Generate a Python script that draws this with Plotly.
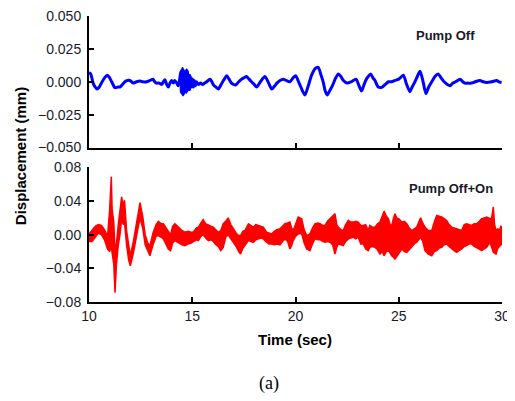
import plotly.graph_objects as go
from plotly.subplots import make_subplots

# --- Top panel: Pump Off (time in sec, displacement in mm) ---
BLUE_T = [
    10.00, 10.08, 10.20, 10.30, 10.38, 10.50, 10.60, 10.75, 10.89, 11.00,
    11.10, 11.26, 11.40, 11.50, 11.62, 11.74, 11.86, 11.98, 12.06, 12.14,
    12.30, 12.47, 12.60, 12.79, 12.95, 13.10, 13.18, 13.26, 13.40, 13.52,
    13.60, 13.68, 13.76, 13.84, 13.92, 14.00, 14.08, 14.15, 14.25, 14.32,
    14.38, 14.45, 14.47, 14.49, 14.51, 14.53, 14.55, 14.57, 14.59, 14.61,
    14.63, 14.65, 14.67, 14.69, 14.71, 14.73, 14.75, 14.77, 14.79, 14.81,
    14.83, 14.85, 14.87, 14.89, 14.92, 14.95, 14.98, 15.02, 15.06, 15.10,
    15.15, 15.20, 15.30, 15.40, 15.50, 15.60, 15.70, 15.86, 15.95, 16.03,
    16.15, 16.26, 16.40, 16.55, 16.67, 16.78, 16.90, 17.00, 17.10, 17.25,
    17.39, 17.50, 17.63, 17.75, 17.87, 18.00, 18.12, 18.30, 18.52, 18.70,
    18.85, 19.00, 19.10, 19.25, 19.41, 19.55, 19.73, 19.88, 20.02, 20.12,
    20.22, 20.34, 20.46, 20.60, 20.78, 20.95, 21.10, 21.22, 21.34, 21.44,
    21.54, 21.65, 21.80, 21.95, 22.08, 22.20, 22.32, 22.50, 22.70, 22.93,
    23.05, 23.20, 23.30, 23.40, 23.52, 23.64, 23.75, 23.85, 24.01, 24.20,
    24.35, 24.50, 24.65, 24.82, 25.00, 25.22, 25.38, 25.54, 25.65, 25.75,
    25.90, 26.03, 26.18, 26.32, 26.45, 26.60, 26.75, 26.91, 27.05, 27.20,
    27.35, 27.48, 27.62, 27.75, 27.97, 28.10, 28.20, 28.35, 28.53, 28.70,
    28.93, 29.10, 29.25, 29.50, 29.74, 29.85, 29.98,
]
BLUE_Y = [
    0.007, 0.006, -0.001, -0.004, -0.0055, -0.004, -0.001, 0.003, 0.005, 0.003,
    0.000, -0.0045, -0.004, -0.004, -0.002, 0.000, 0.001, 0.001, 0.000, -0.001,
    0.000, 0.0005, 0.000, 0.000, 0.001, 0.002, 0.000, -0.001, -0.001, -0.002,
    0.000, 0.0015, -0.002, -0.004, -0.001, 0.001, -0.001, 0.001, -0.001, -0.003,
    0.001, 0.008, -0.008, 0.009, -0.009, 0.010, -0.010, 0.009, -0.009, 0.006,
    -0.007, 0.005, -0.006, 0.008, -0.008, 0.009, -0.007, 0.008, -0.006, 0.005,
    -0.005, 0.004, -0.006, 0.005, -0.004, 0.003, -0.004, 0.002, -0.004, 0.001,
    -0.003, 0.000, -0.002, -0.001, -0.002, -0.001, 0.000, 0.002, 0.000, -0.0025,
    -0.004, -0.0055, -0.002, 0.002, 0.0045, 0.002, -0.001, -0.002, -0.0025, 0.000,
    0.002, 0.003, 0.004, 0.002, 0.000, -0.002, -0.004, 0.000, 0.004, -0.001,
    -0.0055, -0.003, -0.001, 0.001, 0.002, 0.001, 0.000, 0.003, 0.0045, 0.001,
    -0.0025, -0.007, -0.010, -0.004, 0.005, 0.010, 0.011, 0.006, 0.000, -0.007,
    -0.010, -0.007, -0.0025, 0.003, 0.006, 0.004, 0.001, -0.001, 0.000, 0.002,
    -0.002, -0.007, -0.003, 0.001, 0.004, 0.006, 0.003, 0.001, -0.004, -0.004,
    -0.002, 0.000, 0.000, 0.001, 0.002, 0.005, -0.002, -0.0075, -0.004, -0.001,
    0.004, 0.008, 0.000, -0.009, -0.004, 0.000, 0.004, 0.006, 0.003, 0.000,
    -0.002, -0.003, -0.001, 0.000, 0.002, 0.000, -0.001, -0.001, -0.001, 0.000,
    0.001, 0.000, -0.0005, 0.000, 0.001, 0.000, -0.0005,
]

# --- Bottom panel: Pump Off+On, read as upper / lower edge of the noisy trace ---
RED_T = [
    10.00, 10.15, 10.30, 10.45, 10.60, 10.75, 10.90, 11.00, 11.05, 11.08,
    11.12, 11.20, 11.26, 11.33, 11.42, 11.50, 11.58, 11.66, 11.72, 11.82,
    11.92, 12.00, 12.15, 12.30, 12.47, 12.60, 12.72, 12.85, 12.95, 13.10,
    13.25, 13.36, 13.50, 13.60, 13.72, 13.84, 13.95, 14.05, 14.16, 14.33,
    14.50, 14.65, 14.80, 14.95, 15.05, 15.20, 15.30, 15.42, 15.53, 15.65,
    15.78, 15.90, 16.02, 16.14, 16.26, 16.38, 16.50, 16.62, 16.74, 16.87,
    16.99, 17.15, 17.25, 17.34, 17.45, 17.55, 17.72, 17.85, 17.96, 18.08,
    18.20, 18.32, 18.44, 18.60, 18.72, 18.85, 18.97, 19.09, 19.25, 19.37,
    19.49, 19.62, 19.73, 19.81, 19.89, 20.00, 20.13, 20.30, 20.42, 20.54,
    20.70, 20.82, 20.94, 21.07, 21.19, 21.31, 21.43, 21.55, 21.67, 21.80,
    21.91, 22.00, 22.07, 22.20, 22.31, 22.43, 22.56, 22.68, 22.80, 22.92,
    23.04, 23.16, 23.28, 23.40, 23.52, 23.60, 23.72, 23.85, 23.97, 24.09,
    24.20, 24.29, 24.40, 24.50, 24.58, 24.66, 24.75, 24.82, 24.90, 24.99,
    25.15, 25.27, 25.39, 25.51, 25.63, 25.75, 25.87, 25.97, 26.06, 26.16,
    26.27, 26.43, 26.60, 26.72, 26.84, 26.96, 27.08, 27.20, 27.32, 27.44,
    27.56, 27.68, 27.80, 27.92, 28.05, 28.17, 28.29, 28.41, 28.53, 28.65,
    28.77, 28.90, 29.02, 29.14, 29.26, 29.42, 29.50, 29.58, 29.64, 29.71,
    29.80, 29.87, 29.95, 30.00,
]
RED_HI = [
    0.001, 0.005, 0.010, 0.012, 0.011, 0.006, -0.002, 0.030, 0.069, 0.069,
    0.030, 0.015, -0.020, -0.010, 0.012, 0.030, 0.045, 0.034, 0.041, 0.005,
    -0.015, -0.025, -0.008, 0.012, 0.038, 0.022, 0.000, -0.010, -0.013, 0.002,
    0.012, 0.016, 0.013, 0.013, 0.008, 0.003, 0.000, 0.010, 0.013, 0.009,
    0.005, 0.003, 0.004, 0.003, 0.003, 0.008, 0.009, 0.014, 0.018, 0.013,
    0.011, 0.010, 0.009, 0.006, 0.003, 0.005, 0.013, 0.016, 0.020, 0.012,
    0.007, 0.001, -0.001, -0.001, 0.004, 0.005, 0.013, 0.011, 0.009, 0.012,
    0.011, 0.010, 0.009, 0.003, 0.002, 0.001, 0.004, 0.006, 0.007, 0.010,
    0.013, 0.014, 0.015, 0.008, 0.005, 0.012, 0.021, 0.019, 0.006, -0.001,
    0.001, 0.008, 0.013, 0.014, 0.013, 0.011, 0.011, 0.016, 0.019, 0.022,
    0.025, 0.012, 0.009, 0.006, 0.005, 0.012, 0.017, 0.015, 0.015, 0.016,
    0.015, 0.011, 0.011, 0.012, 0.005, 0.011, 0.009, 0.009, 0.013, 0.015,
    0.022, 0.028, 0.022, 0.019, 0.012, 0.011, 0.020, 0.025, 0.020, 0.019,
    0.015, 0.016, 0.013, 0.008, 0.005, 0.007, 0.009, 0.015, 0.020, 0.014,
    0.009, 0.005, 0.005, 0.015, 0.023, 0.022, 0.021, 0.019, 0.017, 0.012,
    0.009, 0.008, 0.007, 0.006, 0.005, 0.012, 0.013, 0.012, 0.011, 0.013,
    0.013, 0.016, 0.019, 0.020, 0.021, 0.019, 0.020, 0.033, 0.012, 0.005,
    0.007, 0.005, 0.010, 0.009,
]
RED_LO = [
    -0.008, -0.008, -0.003, 0.002, 0.000, -0.006, -0.017, -0.020, -0.015, -0.015,
    -0.020, -0.035, -0.069, -0.035, -0.012, 0.000, 0.018, 0.012, 0.015, -0.012,
    -0.030, -0.037, -0.022, -0.002, 0.020, 0.008, -0.012, -0.020, -0.025, -0.012,
    -0.002, -0.001, -0.003, -0.005, -0.010, -0.017, -0.019, -0.010, -0.007, -0.009,
    -0.012, -0.013, -0.011, -0.010, -0.009, -0.006, -0.007, -0.002, 0.000, -0.004,
    -0.007, -0.006, -0.008, -0.012, -0.014, -0.019, -0.015, -0.003, 0.000, -0.005,
    -0.009, -0.015, -0.020, -0.023, -0.016, -0.013, -0.007, -0.008, -0.009, -0.006,
    -0.005, -0.004, -0.005, -0.009, -0.011, -0.011, -0.012, -0.011, -0.012, -0.008,
    -0.005, -0.008, -0.017, -0.013, -0.007, -0.002, 0.001, 0.001, -0.010, -0.017,
    -0.019, -0.011, -0.005, -0.006, -0.006, -0.008, -0.009, -0.008, -0.009, -0.012,
    -0.023, -0.015, -0.011, -0.012, -0.013, -0.008, -0.005, -0.004, -0.003, -0.005,
    -0.003, -0.011, -0.011, -0.017, -0.019, -0.015, -0.014, -0.015, -0.018, -0.023,
    -0.020, -0.025, -0.020, -0.019, -0.022, -0.025, -0.027, -0.029, -0.025, -0.023,
    -0.017, -0.020, -0.021, -0.018, -0.015, -0.011, -0.009, -0.006, -0.003, -0.008,
    -0.019, -0.023, -0.025, -0.020, -0.019, -0.016, -0.015, -0.012, -0.011, -0.014,
    -0.017, -0.019, -0.021, -0.019, -0.017, -0.014, -0.013, -0.011, -0.011, -0.014,
    -0.015, -0.017, -0.019, -0.017, -0.015, -0.009, -0.015, -0.021, -0.022, -0.023,
    -0.016, -0.015, -0.012, -0.011,
]

X_TICKS = [10, 15, 20, 25, 30]
TOP_TICKS = [0.050, 0.025, 0.000, -0.025, -0.050]
BOTTOM_TICKS = [0.08, 0.04, 0.00, -0.04, -0.08]

BLUE = '#0000ff'
RED = '#ff0000'
TEXT = '#1a1a2a'
FONT = 'Liberation Sans, Arial, sans-serif'

fig = make_subplots(rows=2, cols=1)

fig.add_trace(
    go.Scatter(x=BLUE_T, y=BLUE_Y, mode='lines',
               line=dict(color=BLUE, width=3, shape='spline', smoothing=0.7),
               showlegend=False),
    row=1, col=1,
)

# noisy red trace drawn as the band between its upper and lower edges
fig.add_trace(
    go.Scatter(x=RED_T + RED_T[::-1], y=RED_HI + RED_LO[::-1], mode='lines',
               fill='toself', fillcolor=RED,
               line=dict(color=RED, width=1.5), showlegend=False),
    row=2, col=1,
)

axis_style = dict(
    showgrid=False, zeroline=False, showline=True, linecolor='black',
    linewidth=2, ticks='inside', ticklen=5, tickwidth=2, tickcolor='black',
    tickfont=dict(family=FONT, size=14, color=TEXT), automargin=False,
    ticklabeloverflow='allow',
)

# page body has an 8px margin, so the figure is drawn 8px smaller
fig.update_layout(
    width=507, height=393,
    margin=dict(l=81, r=13, t=8, b=99),
    plot_bgcolor='white', paper_bgcolor='white',
    font=dict(family=FONT),
    xaxis=dict(domain=[0, 1], range=[10, 30.0001], tickvals=X_TICKS,
               showticklabels=False, anchor='y', **axis_style),
    yaxis=dict(domain=[0.54, 1], range=[-0.0500001, 0.0500001], tickvals=TOP_TICKS,
               tickformat='.3f', anchor='x', ticklabelstandoff=3, **axis_style),
    xaxis2=dict(domain=[0, 1], range=[10, 30.0001], tickvals=X_TICKS,
                anchor='y2', **axis_style),
    yaxis2=dict(domain=[0, 0.4706], range=[-0.0800001, 0.0800001], tickvals=BOTTOM_TICKS,
                tickformat='.2f', anchor='x2', ticklabelstandoff=3, **axis_style),
)

fig.add_annotation(text='<b>Pump Off</b>', x=0.862, y=0.931, xref='paper', yref='paper',
                   xanchor='center', yanchor='middle', showarrow=False,
                   font=dict(family=FONT, size=13, color=TEXT))
fig.add_annotation(text='<b>Pump Off+On</b>', x=0.877, y=0.398, xref='paper', yref='paper',
                   xanchor='center', yanchor='middle', showarrow=False,
                   font=dict(family=FONT, size=13, color=TEXT))
fig.add_annotation(text='<b>Displacement (mm)</b>', x=-0.167, y=0.51, xref='paper', yref='paper',
                   xanchor='center', yanchor='middle', textangle=-90, showarrow=False,
                   font=dict(family=FONT, size=15, color='black'))
fig.add_annotation(text='<b>Time (sec)</b>', x=0.499, y=-0.1315, xref='paper', yref='paper',
                   xanchor='center', yanchor='middle', showarrow=False,
                   font=dict(family=FONT, size=15, color='black'))
fig.add_annotation(text='(a)', x=0.437, y=-0.285, xref='paper', yref='paper',
                   xanchor='center', yanchor='middle', showarrow=False,
                   font=dict(family='Liberation Serif, Times New Roman, serif', size=18, color='black'))

fig.write_html("out.html")
